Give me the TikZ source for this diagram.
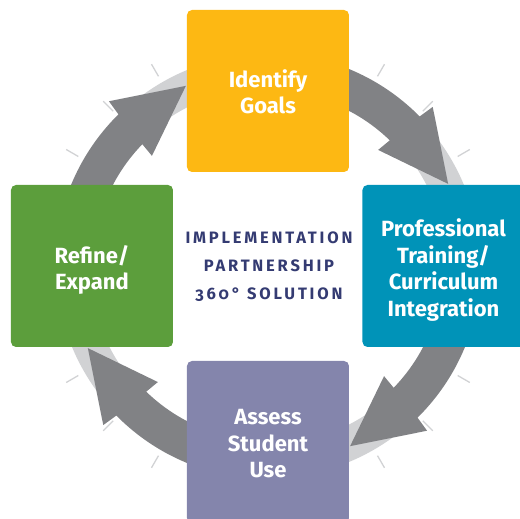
\documentclass[tikz,border=0pt]{standalone}
\usepackage{fontspec}
\setmainfont{Fira Sans}
\newfontfamily\centerfont{Fira Sans}[LetterSpace=17,Numbers=OldStyle]
\definecolor{boxyellow}{HTML}{FDB813}
\definecolor{boxteal}{HTML}{0093B8}
\definecolor{boxgreen}{HTML}{5C9E3C}
\definecolor{boxpurple}{HTML}{8485AC}
\definecolor{arrowgray}{HTML}{818285}
\definecolor{ringgray}{HTML}{D1D2D4}
\definecolor{navy}{HTML}{343B72}
\begin{document}
\begin{tikzpicture}[x=1pt,y=1pt,
  box/.style={minimum width=162pt, minimum height=162pt, rounded corners=5pt,
    inner sep=0pt},
  boxtext/.style={text=white, align=center, inner sep=0pt,
    font=\bfseries\fontsize{22}{26.5}\selectfont},
  tickline/.style={draw=ringgray, line width=1.3pt},
  bigarrow/.style={fill=arrowgray}]
\useasboundingbox (-268,-253) rectangle (252,266);
% background ring
\fill[ringgray, even odd rule] (0,0) circle[radius=212] (0,0) circle[radius=178];
% ticks
\foreach \k in {0,90,180,270}{
  \foreach \a in {30,45,60}{
    \draw[tickline] (\a+\k:219) -- (\a+\k:233);
  }
}
% curved arrows
\foreach \k in {0,-90,-180,-270}{
  \fill[bigarrow, rotate=\k]
    (175:213) arc[start angle=175, end angle=134.6, radius=213]
    -- (134:229) -- (114.5:198) -- (136.5:160) -- (135.9:175)
    arc[start angle=135.9, end angle=175, radius=175] -- cycle;
}
% boxes
\node[box, fill=boxyellow] (goals) at (0,175) {};
\node[box, fill=boxteal] (training) at (175.5,0) {};
\node[box, fill=boxpurple] (assess) at (0,-176) {};
\node[box, fill=boxgreen] (refine) at (-176,0) {};
\node[boxtext] (goalstext) at ([yshift=-1pt]goals.center) {Identify\\Goals};
\node[boxtext] (trainingtext) at ([yshift=-4pt]training.center) {Professional\\Training/\\Curriculum\\Integration};
\node[boxtext] (assesstext) at ([yshift=-2pt]assess.center) {Assess\\Student\\Use};
\node[boxtext] (refinetext) at ([yshift=-4pt]refine.center) {Refine/\\Expand};
% center text
\node[text=navy, align=center, font=\centerfont\bfseries\fontsize{16.5}{28}\selectfont] (center) at (1,-1)
  {IMPLEMENTATION\\PARTNERSHIP\\360° SOLUTION};
\end{tikzpicture}
\end{document}
